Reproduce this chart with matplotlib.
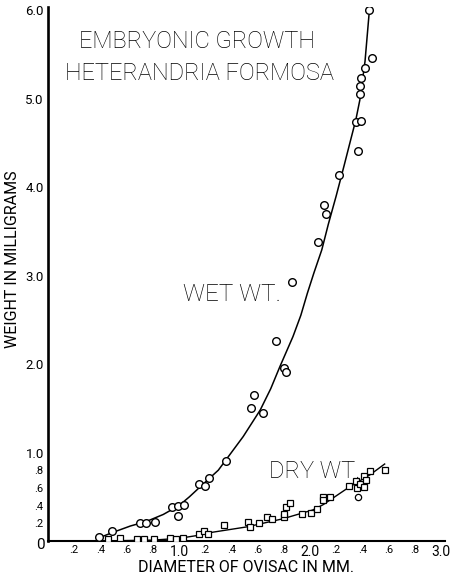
import numpy as np
from matplotlib import pyplot as plt

# wet weight, open circles (diameter mm, weight mg)
wet_d = [0.39, 0.49, 0.70, 0.75, 0.82, 0.95, 0.99, 0.99, 1.04, 1.15, 1.20, 1.23,
         1.36, 1.55, 1.57, 1.64, 1.74, 1.80, 1.82, 1.86, 2.06, 2.11, 2.12, 2.22,
         2.35, 2.37, 2.38, 2.38, 2.39, 2.39, 2.42, 2.45, 2.47]
wet_w = [0.04, 0.11, 0.20, 0.20, 0.21, 0.38, 0.28, 0.39, 0.41, 0.64, 0.62, 0.71,
         0.90, 1.50, 1.65, 1.45, 2.26, 1.95, 1.91, 2.93, 3.38, 3.80, 3.69, 4.14,
         4.73, 4.41, 5.14, 5.05, 5.23, 4.75, 5.34, 6.00, 5.46]

# dry weight, open squares
dry_d = [0.46, 0.55, 0.68, 0.73, 0.81, 0.93, 0.98, 1.03, 1.15, 1.19, 1.22, 1.34,
         1.53, 1.54, 1.61, 1.67, 1.71, 1.80, 1.80, 1.82, 1.85, 1.94, 2.01, 2.05,
         2.10, 2.10, 2.15, 2.30, 2.35, 2.36, 2.38, 2.41, 2.41, 2.43, 2.46, 2.57]
dry_w = [0.02, 0.03, 0.02, 0.02, 0.02, 0.03, 0.02, 0.03, 0.08, 0.11, 0.08, 0.18,
         0.21, 0.16, 0.20, 0.27, 0.25, 0.27, 0.31, 0.38, 0.43, 0.31, 0.32, 0.36,
         0.50, 0.46, 0.50, 0.62, 0.68, 0.60, 0.64, 0.61, 0.74, 0.69, 0.79, 0.80]
odd_d = [2.37]
odd_w = [0.50]

# hand drawn curves through the points
wet_curve_d = [0.38, 0.50, 0.63, 0.75, 0.88, 1.00, 1.08, 1.16, 1.30, 1.41, 1.49,
               1.62, 1.70, 1.77, 1.87, 1.93, 1.98, 2.03, 2.09, 2.14, 2.20, 2.26,
               2.31, 2.35, 2.38, 2.42, 2.45]
wet_curve_w = [0.03, 0.10, 0.17, 0.22, 0.30, 0.40, 0.50, 0.61, 0.80, 1.02, 1.18,
               1.48, 1.72, 1.97, 2.31, 2.55, 2.80, 3.03, 3.29, 3.58, 3.90, 4.24,
               4.53, 4.76, 4.98, 5.42, 5.94]
dry_curve_d = [0.40, 0.80, 1.00, 1.13, 1.26, 1.52, 1.79, 2.02, 2.10, 2.18, 2.29,
               2.46, 2.57]
dry_curve_w = [0.00, 0.01, 0.03, 0.06, 0.10, 0.16, 0.25, 0.35, 0.41, 0.49, 0.60,
               0.75, 0.87]

x_ticks = np.round(np.arange(0.2, 3.01, 0.2), 1)
x_labels = ['.2', '.4', '.6', '.8', '1.0', '.2', '.4', '.6', '.8', '2.0',
            '.2', '.4', '.6', '.8', '3.0']
y_ticks = [0.2, 0.4, 0.6, 0.8, 1.0, 2.0, 3.0, 4.0, 5.0, 6.0]
y_labels = ['.2', '.4', '.6', '.8', '1.0', '2.0', '3.0', '4.0', '5.0', '6.0']

plt.rcParams['font.family'] = ['Roboto', 'DejaVu Sans']
fig = plt.figure(figsize=(4.51, 5.78), dpi=100)
ax = fig.add_axes([48 / 451, 37 / 578, 3.03 * 131 / 451, 6.03 * 88.5 / 578])

ax.plot(wet_curve_d, wet_curve_w, 'k-', lw=1.1, zorder=2)
ax.plot(dry_curve_d, dry_curve_w, 'k-', lw=1.0, zorder=2)
ax.plot(wet_d, wet_w, 'o', ms=5.5, mfc='white', mec='k', mew=1.0, zorder=3)
ax.plot(dry_d, dry_w, 's', ms=4.2, mfc='white', mec='k', mew=0.9, zorder=3)
ax.plot(odd_d, odd_w, 'o', ms=4.5, mfc='white', mec='k', mew=0.9, zorder=3)

ax.set_xlim(0, 3.03)
ax.set_ylim(0, 6.03)
for s in ['top', 'right']:
    ax.spines[s].set_visible(False)
ax.spines['left'].set_linewidth(1.9)
ax.spines['bottom'].set_linewidth(1.5)

ax.set_xticks(x_ticks)
ax.set_xticklabels(x_labels)
ax.set_yticks(y_ticks)
ax.set_yticklabels(y_labels)
ax.tick_params(length=0, pad=3)
for lab, val in zip(ax.get_xticklabels(), x_labels):
    lab.set_fontsize(10 if len(val) == 3 else 8)
for lab, val in zip(ax.get_yticklabels(), y_labels):
    lab.set_fontsize(9.5 if len(val) == 3 else 8)
ax.text(-0.06, -0.05, '0', fontsize=11, ha='center', va='center')

big = dict(fontweight='light', va='center', ha='left')
ax.text(0.24, 5.64, 'EMBRYONIC GROWTH', fontsize=17, **big)
ax.text(0.13, 5.28, 'HETERANDRIA FORMOSA', fontsize=17, **big)
ax.text(1.03, 2.78, 'WET WT.', fontsize=17.5, **big)
ax.text(1.69, 0.79, 'DRY WT.', fontsize=17, **big)

fig.text(246 / 451, 1 - 567 / 578, 'DIAMETER OF OVISAC IN MM.', fontsize=11.5,
         ha='center', va='center')
fig.text(13 / 451, 1 - 259 / 578, 'WEIGHT IN MILLIGRAMS', fontsize=11.5,
         rotation=90, ha='center', va='center')

fig.savefig('out.png', dpi=100)
